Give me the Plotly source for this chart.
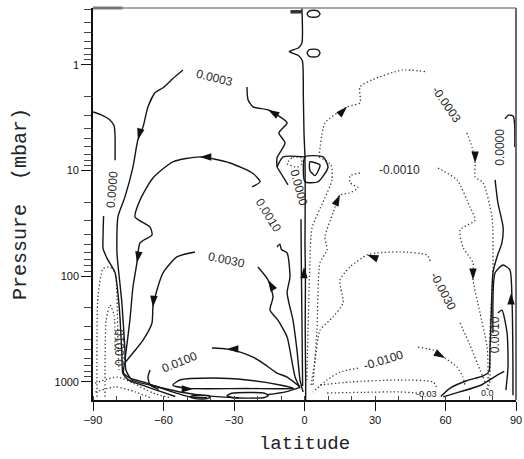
import math
import plotly.graph_objects as go

# ---------------- data (latitude in degrees, pressure in mbar) ----------------
# solid (positive / zero) streamfunction contours
sol_eq_lat = [-1.1, -1.1, -2.5, -6.5, -2.5, -0.9, -0.5, -0.2, 0.2, 0.3, 0.2, 0.4, 0.3, 0.5, 0.5]
sol_eq_p = [0.29, 0.62, 0.69, 0.75, 0.82, 0.92, 2.0, 4.5, 7.45, 20, 50, 100, 300, 1000, 1490]
sol_top_lat = [-6.0, -1.1]
sol_top_p = [0.315, 0.315]
oval1_lat = [1.1, 2.0, 3.9, 5.7, 6.6, 5.7, 3.9, 2.0, 1.1]
oval1_p = [0.33, 0.31, 0.305, 0.31, 0.33, 0.35, 0.355, 0.35, 0.33]
oval2_lat = [1.1, 2.0, 3.9, 5.7, 6.6, 5.7, 3.9, 2.0, 1.1]
oval2_p = [0.77, 0.72, 0.71, 0.72, 0.77, 0.83, 0.845, 0.83, 0.77]
tri_out_lat = [0.2, 7.9, 10.0, 5.8, 0.2, 0.2]
tri_out_p = [7.45, 7.45, 9.3, 12.8, 12.8, 7.45]
tri_in_lat = [2.3, 6.6, 4.5, 2.3, 2.3]
tri_in_p = [8.3, 8.9, 11.2, 10.0, 8.3]

s0000_sh_a_lat = [-90, -87, -83, -81, -80.6, -80.6, -80.6]
s0000_sh_a_p = [2.8, 2.95, 3.3, 3.8, 5.0, 6.4, 8.0]
s0000_sh_b_lat = [-85.5, -85.7, -85.7, -84, -80.6, -79.4, -78.5, -77.7, -77.3, -75, -70, -62, -55]
s0000_sh_b_p = [27, 40, 55, 68, 93, 145, 250, 560, 830, 960, 1060, 1220, 1380]

s0003_sh_a_lat = [-51.7, -56, -60.2, -63.6, -66.6, -68.7, -70.9, -73, -76.4, -79.4, -79.8,
                  -78.5, -77.7, -76.4, -76.0, -73.4, -65.7, -53, -40, -28]
s0003_sh_a_p = [1.12, 1.35, 1.65, 1.84, 2.5, 3.87, 5.13, 9.3, 17.8, 27.6, 60.4,
                120, 180, 502, 776, 964, 1075, 1250, 1370, 1420]
s0003_sh_b_lat = [-24.5, -24, -21.9, -15.5, -10.4, -7.4, -10.9, -8.3, -11.7, -11.7]
s0003_sh_b_p = [1.62, 2.15, 2.5, 2.67, 3.11, 3.55, 4.41, 5.49, 7.6, 9.28]
hex_top_lat = [-11.7, -9.1, 0.2]
hex_top_p = [9.28, 7.45, 7.45]
hex_low_lat = [-11.7, -7.0]
hex_low_p = [9.28, 13.7]
eqw_lat = [-1.5, -1.3, -1.0, -0.8]
eqw_p = [29, 100, 400, 1100]

s0010_sh_a_lat = [-76.4, -74.3, -73, -71.3, -70, -64.9, -65.7, -72.1, -70, -64.5, -56,
                  -44.5, -31.7, -21.9, -18.9, -22.3]
s0010_sh_a_p = [624, 261, 127, 75, 48.6, 40.8, 34.4, 27.6, 19.1, 11.8, 8.3,
                7.45, 8.5, 10.7, 12.8, 14.3]
s0010_sh_b_lat = [-11.7, -10.5, -9.8, -7.4, -6.2, -7.4, -4.9, -3.2, -1.9, -0.6]
s0010_sh_b_p = [53, 50, 56, 60.4, 102, 145, 261, 502, 964, 1250]

s0030_sh_a_lat = [-46.6, -54.3, -60.2, -63.6, -64.5, -64.9, -68.7, -73, -76.4, -77, -77]
s0030_sh_a_p = [59.1, 65.9, 93.4, 158, 197, 278, 404, 535, 666, 760, 850]
s0030_sh_b_lat = [-19.8, -15.5, -13.4, -14.7, -11.3, -7.4, -6.2, -4.0, -1.9]
s0030_sh_b_p = [82, 109, 158, 210, 261, 378, 502, 903, 1150]

s0100_a_lat = [-65.7, -66.6, -65.7, -62]
s0100_a_p = [776, 903, 1075, 1180]
s0100_b_lat = [-39.4, -33, -28.7, -21.9, -17.7, -11.7, -7.4, -1.9]
s0100_b_p = [480, 491, 513, 585, 666, 829, 903, 1120]

s0300_loop_lat = [-56, -53, -39, -24.5, -10.4, -4.5, -12, -25, -40, -51, -56]
s0300_loop_p = [1075, 964, 923, 964, 1075, 1160, 1165, 1160, 1165, 1150, 1075]
oval_a_lat = [-33, -31, -24, -17, -15.5, -17, -24, -31, -33]
oval_a_p = [1350, 1285, 1265, 1285, 1350, 1410, 1430, 1410, 1350]
oval_b_lat = [-48.7, -47, -44, -41, -40.2, -41, -44, -47, -48.7]
oval_b_p = [1390, 1350, 1340, 1350, 1390, 1440, 1460, 1440, 1390]
bot_sh_lat = [-77.3, -74.3, -67, -58.5, -48.7, -41.5]
bot_sh_p = [829, 923, 1030, 1200, 1390, 1420]
bot_eq_lat = [-16, -8, -2]
bot_eq_p = [1330, 1250, 1130]

nh_hook_lat = [85.3, 86.8, 88.8, 89.4, 89.5]
nh_hook_p = [3.25, 3.0, 3.05, 3.6, 6.0]
s0000_nh_lat = [81.1, 82.3, 84.5, 84.0, 81.9, 80.2, 79.4, 78.9, 78.5, 76, 69, 62, 58]
s0000_nh_p = [12.3, 20.3, 34.4, 48.6, 65.9, 93, 261, 502, 800, 880, 980, 1150, 1380]
nh_loop1_lat = [80.2, 81.1, 84.5, 87.4, 88.3, 88.7, 88.7]
nh_loop1_p = [346, 93, 78.5, 87.5, 169, 727, 1340]
nh_loop2_lat = [82.3, 84.0, 86.2, 86.6, 85.7]
nh_loop2_p = [224, 210, 346, 727, 1200]
nh_bot_lat = [59, 66, 75, 81.5, 85]
nh_bot_p = [1390, 1250, 1080, 880, 800]

# dotted (negative) contours
d0003_a_lat = [6.2, 8.7, 16.0, 18.1, 23.6, 23.6, 28.7, 41.5, 51.3]
d0003_a_p = [7.45, 3.55, 2.67, 2.5, 2.29, 1.62, 1.39, 1.12, 1.16]
d0003_b_lat = [69.1, 71.3, 72.6, 72.6, 76, 79.8, 80.2, 78.9, 78.9, 78.0]
d0003_b_p = [4.41, 6.0, 8.5, 11.5, 13.1, 27.6, 82, 346, 964, 1200]
d0003_c_lat = [6.2, 11.3, 11.7, 8.3, 3.2, 2.3, 1.5, 1.0]
d0003_c_p = [7.45, 8.9, 12.3, 19, 35, 75, 325, 964]
d0010_a_lat = [23.6, 19.4, 19.4, 22.8, 19.0, 15.1, 12.1, 8.7, 9.6, 6.6, 5.3, 3.6]
d0010_a_p = [10.6, 11.2, 13.1, 14.6, 16.4, 17.1, 25.3, 42.6, 56.6, 75, 325, 1075]
d0010_b_lat = [56.8, 64.9, 70.4, 72.6, 66.2, 67.4, 71.7, 71.7, 74.7, 77.7, 78.1, 77.5]
d0010_b_p = [9.5, 12.3, 22.2, 29.5, 36.6, 53, 75, 109, 224, 470, 964, 1200]
d0030_a_lat = [53.5, 52.1, 40.6, 30.9, 26.6, 19.4, 15.1, 16.4, 12.1, 6.6, 4.5, 2.8]
d0030_a_p = [72, 63.1, 59, 60.4, 63, 82, 109, 180, 244, 325, 624, 1075]
d0030_b_lat = [66.2, 70.4, 74.7, 76.8]
d0030_b_p = [278, 450, 776, 1006]
d0100_a_lat = [22.8, 15.1, 9.6, 3.6]
d0100_a_p = [743, 810, 964, 1250]
d0100_b_lat = [48.3, 54.7, 59.8, 64.9, 67.4, 68.3]
d0100_b_p = [470, 502, 598, 727, 903, 1075]
d0300_a_lat = [6.6, 19.4, 40.6, 54.7, 56.4]
d0300_a_p = [1075, 1006, 964, 1006, 1150]
d0300_b_lat = [9.6, 25, 40.6, 53.4]
d0300_b_p = [1280, 1260, 1250, 1310]
dsp1_lat = [-88.3, -87.9, -85.7, -82.8, -80.6, -79.8, -79.4, -79.0]
dsp1_p = [1390, 158, 85, 82, 93, 158, 404, 776]
dsp2_lat = [-84.9, -84.4, -82.8, -81.0, -80.6]
dsp2_p = [1390, 261, 188, 234, 502]
dsp3_lat = [-89.1, -79.8, -73, -64.5, -57]
dsp3_p = [1030, 903, 1030, 1280, 1420]
dsp4_lat = [-89, -80.6, -72, -65.7]
dsp4_p = [1250, 1120, 1250, 1420]
deq_lat = [-7.4, -5, -1.5, -1.1, -3, -7.4]
deq_p = [8.6, 7.5, 7.6, 8.6, 9.3, 8.6]

# flow-direction arrowheads
arr_lat = [-70.9, -44.5, -71.3, -64.5, -15.5, -15.5, -33, -47.4, -0.2, 18.1, 72.6, 15.1, 71.7, 26.6, 59.8, 87.9]
arr_p = [5.13, 7.45, 75, 197, 2.67, 109, 491, 1170, 82, 2.5, 8.5, 17, 109, 63, 598, 145]
arr_dir = [195, 270, 190, 185, 300, 330, 270, 90, 0, 45, 180, 25, 180, 290, 120, 0]

# contour labels
lab_text = ["0.0003", "0.0000", "0.0010", "0.0030", "0.0100", "0.0010", "0.0000",
            "-0.0003", "-0.0010", "-0.0030", "-0.0100", "0.0000", "0.0010", "0.0", "-0.03"]
lab_lat = [-38.1, -81.9, -15.5, -33, -53, -78.5, -2.6, 60.6, 40.6, 59, 33.8, 83.2, 81.1, 77.7, 52]
lab_p = [1.33, 15.3, 26.5, 70, 650, 480, 14.5, 2.39, 10, 138, 624, 6.1, 362, 1290, 1300]
lab_angle = [14, -85, 58, 12, -22, -90, 75, 55, 0, 62, -17, -90, -90, 0, 0]

x_ticks = [-90, -60, -30, 0, 30, 60, 90]
y_ticks = [1, 10, 100, 1000]
y_ticktext = ["1", "10", "100", "1000"]

# ---------------- figure ----------------
solid = [
    (sol_eq_lat, sol_eq_p), (oval1_lat, oval1_p), (oval2_lat, oval2_p),
    (tri_out_lat, tri_out_p), (tri_in_lat, tri_in_p),
    (s0000_sh_a_lat, s0000_sh_a_p), (s0000_sh_b_lat, s0000_sh_b_p),
    (s0003_sh_a_lat, s0003_sh_a_p), (s0003_sh_b_lat, s0003_sh_b_p),
    (hex_top_lat, hex_top_p), (hex_low_lat, hex_low_p), (eqw_lat, eqw_p),
    (s0010_sh_a_lat, s0010_sh_a_p), (s0010_sh_b_lat, s0010_sh_b_p),
    (s0030_sh_a_lat, s0030_sh_a_p), (s0030_sh_b_lat, s0030_sh_b_p),
    (s0100_a_lat, s0100_a_p), (s0100_b_lat, s0100_b_p),
    (s0300_loop_lat, s0300_loop_p), (oval_a_lat, oval_a_p), (oval_b_lat, oval_b_p),
    (bot_sh_lat, bot_sh_p), (bot_eq_lat, bot_eq_p),
    (nh_hook_lat, nh_hook_p), (s0000_nh_lat, s0000_nh_p),
    (nh_loop1_lat, nh_loop1_p), (nh_loop2_lat, nh_loop2_p), (nh_bot_lat, nh_bot_p),
]
dotted = [
    (d0003_a_lat, d0003_a_p), (d0003_b_lat, d0003_b_p), (d0003_c_lat, d0003_c_p),
    (d0010_a_lat, d0010_a_p), (d0010_b_lat, d0010_b_p),
    (d0030_a_lat, d0030_a_p), (d0030_b_lat, d0030_b_p),
    (d0100_a_lat, d0100_a_p), (d0100_b_lat, d0100_b_p),
    (d0300_a_lat, d0300_a_p), (d0300_b_lat, d0300_b_p),
    (dsp1_lat, dsp1_p), (dsp2_lat, dsp2_p), (dsp3_lat, dsp3_p), (dsp4_lat, dsp4_p),
    (deq_lat, deq_p),
]

fig = go.Figure()
for la, pr in dotted:
    fig.add_trace(go.Scatter(x=la, y=pr, mode="lines", hoverinfo="skip",
                             line=dict(color="#3a3a3a", width=1.3, dash="1.3px,2.4px",
                                       shape="spline", smoothing=0.6)))
for la, pr in solid:
    fig.add_trace(go.Scatter(x=la, y=pr, mode="lines", hoverinfo="skip",
                             line=dict(color="#151515", width=1.4, shape="spline", smoothing=0.6)))
fig.add_trace(go.Scatter(x=sol_top_lat, y=sol_top_p, mode="lines", hoverinfo="skip",
                         line=dict(color="#333333", width=3.5)))
fig.add_trace(go.Scatter(x=arr_lat, y=arr_p, mode="markers", hoverinfo="skip",
                         marker=dict(symbol="arrow", size=12, angle=arr_dir, color="#111111",
                                     line=dict(width=0))))

for t, la, pr, ang in zip(lab_text, lab_lat, lab_p, lab_angle):
    small = t in ("0.0", "-0.03")
    fig.add_annotation(x=la, y=math.log10(pr), xref="x", yref="y", text=t, showarrow=False,
                       textangle=ang,
                       font=dict(family="Liberation Sans, Arial, sans-serif",
                                 size=9 if small else 12, color="#2a2a2a"))

minor_y = [m * 10 ** e for e in range(-1, 4) for m in range(2, 10)]

fig.update_layout(
    width=524, height=459,
    margin=dict(l=93, r=8, t=8, b=59, autoexpand=False),
    paper_bgcolor="white", plot_bgcolor="white",
    showlegend=False,
    font=dict(family="Liberation Sans, Arial, sans-serif", size=11, color="#111111"),
    xaxis=dict(range=[-90, 90], tickvals=x_ticks, ticks="outside", ticklen=9, tickwidth=1.2,
               tickcolor="#111111", showline=True, linecolor="#111111", linewidth=1.6,
               showgrid=False, zeroline=False, automargin=False, ticklabeloverflow="allow",
               minor=dict(dtick=10, ticks="inside", ticklen=4, tickcolor="#444444", tickwidth=1),
               tickfont=dict(size=11),
               title=dict(text="latitude", standoff=11,
                          font=dict(family="Liberation Mono, Courier New, monospace", size=19, color="#222222"))),
    yaxis=dict(type="log", range=[math.log10(1490), math.log10(0.29)],
               tickvals=y_ticks, ticktext=y_ticktext, ticks="outside", ticklen=10, tickwidth=1.2,
               tickcolor="#111111", showline=True, linecolor="#111111", linewidth=1.6,
               showgrid=False, zeroline=False, automargin=False, ticklabeloverflow="allow",
               minor=dict(tickvals=minor_y, ticks="outside", ticklen=7, tickcolor="#444444", tickwidth=1),
               tickfont=dict(size=11),
               title=dict(text="Pressure  (mbar)", standoff=23,
                          font=dict(family="Liberation Mono, Courier New, monospace", size=20, color="#222222"))),
    shapes=[
        dict(type="line", xref="paper", yref="paper", x0=0, x1=1, y0=1, y1=1,
             line=dict(color="#8a8a8a", width=1.5)),
        dict(type="line", xref="paper", yref="paper", x0=1, x1=1, y0=0, y1=1,
             line=dict(color="#6a6a6a", width=2)),
        dict(type="line", xref="paper", yref="paper", x0=0, x1=0.07, y0=1, y1=1,
             line=dict(color="#777777", width=3)),
    ],
)

# remove the browser's default page margin so the 524x459 figure fills the window exactly
fig.write_html("out.html", config={"displayModeBar": False},
               post_script="document.body.style.margin='0';document.body.style.overflow='hidden';")
